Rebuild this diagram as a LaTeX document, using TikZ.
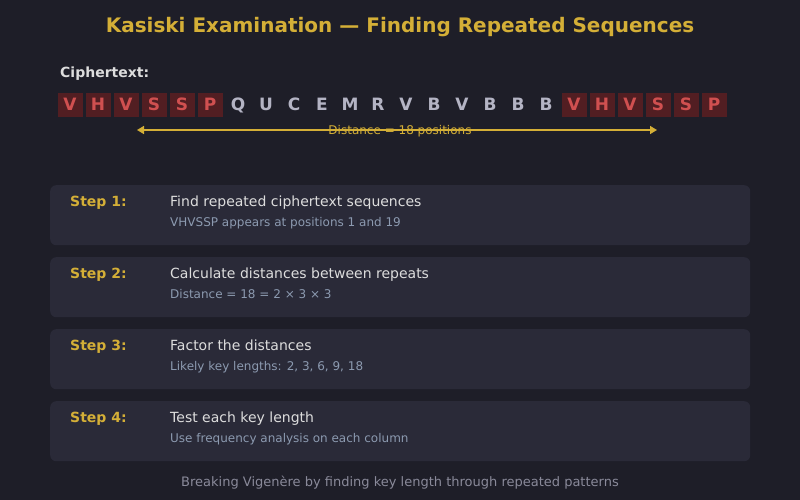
\documentclass[tikz,border=0pt]{standalone}
\usepackage{fontspec}
\setmainfont{DejaVu Sans}
\usetikzlibrary{arrows.meta}
\definecolor{bg}{HTML}{1E1E28}
\definecolor{boxbg}{HTML}{2A2A38}
\definecolor{gold}{HTML}{D4AF37}
\definecolor{redbox}{HTML}{521E22}
\definecolor{redtxt}{HTML}{D05050}
\definecolor{graytxt}{HTML}{B4B4C4}
\definecolor{lighttxt}{HTML}{DDDDDD}
\definecolor{subtxt}{HTML}{8C9AB0}
\definecolor{foottxt}{HTML}{8A8A9A}
\tikzset{
  letter/.style={font=\fontsize{17}{19}\selectfont\bfseries, text=graytxt, inner sep=0pt, anchor=base},
  repletter/.style={letter, text=redtxt},
  repbox/.style={fill=redbox, draw=none},
  stepbox/.style={fill=boxbg, draw=none, rounded corners=6pt},
  steplabel/.style={font=\fontsize{14}{16}\selectfont\bfseries, text=gold, anchor=base west, inner sep=0pt},
  steptitle/.style={font=\fontsize{14}{16}\selectfont, text=lighttxt, anchor=base west, inner sep=0pt},
  stepsub/.style={font=\fontsize{12}{14}\selectfont, text=subtxt, anchor=base west, inner sep=0pt},
}
\begin{document}
\begin{tikzpicture}[x=1pt,y=-1pt]
\fill[bg] (0,0) rectangle (800,500);
\useasboundingbox (0,0) rectangle (800,500);
\node[font=\fontsize{20}{24}\selectfont\bfseries, text=gold, inner sep=0pt] (title) at (400,27) {Kasiski Examination — Finding Repeated Sequences};
\node[font=\fontsize{14}{16}\selectfont\bfseries, text=lighttxt, anchor=base west, inner sep=0pt] (ct) at (60,78) {Ciphertext:};
\foreach \ch [count=\i from 0] in {V,H,V,S,S,P,Q,U,C,E,M,R,V,B,V,B,B,B,V,H,V,S,S,P}{
  \pgfmathsetmacro{\cx}{70+28*\i}
  \ifnum\i<6
    \fill[repbox] (\cx-12.5,93) rectangle (\cx+12.5,117);
    \node[repletter] (c\i) at (\cx,111) {\ch};
  \else\ifnum\i>17
    \fill[repbox] (\cx-12.5,93) rectangle (\cx+12.5,117);
    \node[repletter] (c\i) at (\cx,111) {\ch};
  \else
    \node[letter] (c\i) at (\cx,111) {\ch};
  \fi\fi
}
\coordinate (al) at (137,130);
\coordinate (ar) at (657,130);
\node[font=\fontsize{12}{14}\selectfont, text=gold, inner sep=0pt, anchor=base] (dist) at (400,134.5) {Distance = 18 positions};
\draw[gold, line width=1.5pt, {Triangle[length=7pt,width=8pt]}-{Triangle[length=7pt,width=8pt]}] (al) -- (ar);
\foreach \y/\n/\t/\s in {185/1/Find repeated ciphertext sequences/VHVSSP appears at positions 1 and 19,
                         257/2/Calculate distances between repeats/{Distance = 18 = 2 × 3 × 3},
                         329/3/Factor the distances/{Likely key lengths: 2, 3, 6, 9, 18},
                         401/4/Test each key length/Use frequency analysis on each column}{
  \node[stepbox, minimum width=700pt, minimum height=60pt, anchor=north west, inner sep=0pt] (box\n) at (50,\y) {};
  \node[steplabel] (lab\n) at (70,\y+21) {Step \n:};
  \node[steptitle] (tit\n) at (170,\y+21) {\t};
  \node[stepsub] (sub\n) at (170,\y+41) {\s};
}
\node[font=\fontsize{13}{15}\selectfont, text=foottxt, inner sep=0pt] (foot) at (400,483) {Breaking Vigenère by finding key length through repeated patterns};
\end{tikzpicture}
\end{document}
